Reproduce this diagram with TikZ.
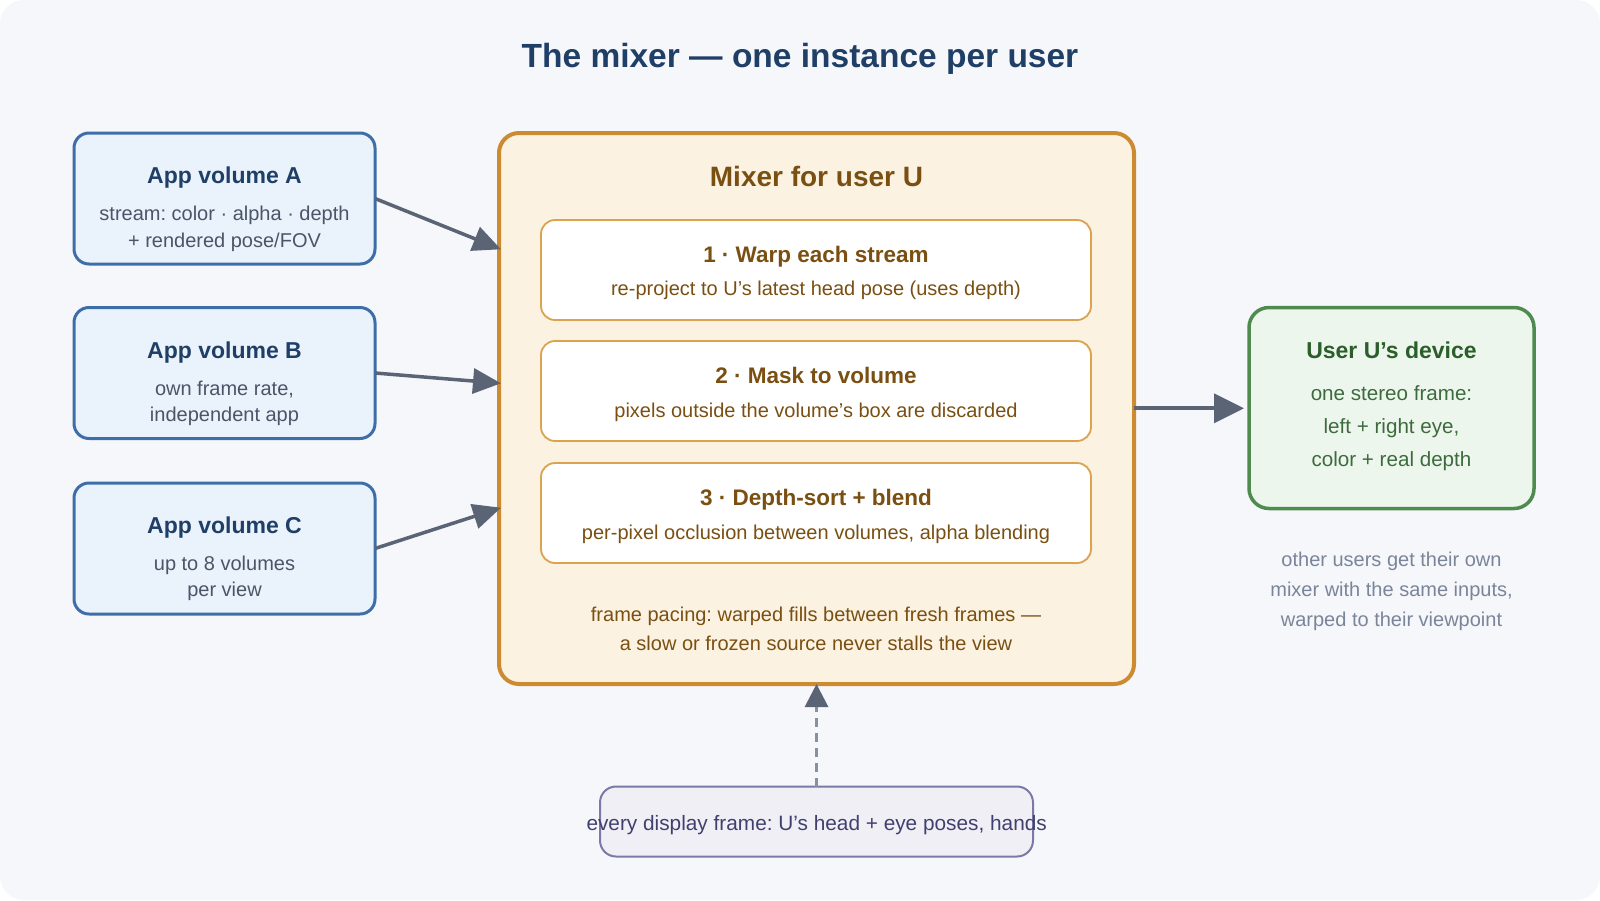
\documentclass[tikz,border=0pt]{standalone}
\usepackage{fontspec}
\setmainfont{Liberation Sans}
\usetikzlibrary{arrows.meta}
\frenchspacing
\definecolor{bgc}{HTML}{F5F7FB}
\definecolor{navy}{HTML}{1F3F66}
\definecolor{appfill}{HTML}{EAF2FC}
\definecolor{appdraw}{HTML}{3E6EA8}
\definecolor{appbody}{HTML}{4A5568}
\definecolor{mixfill}{HTML}{FCF2E2}
\definecolor{mixdraw}{HTML}{CD8B31}
\definecolor{mixtext}{HTML}{7A4F12}
\definecolor{stepdraw}{HTML}{DBA24F}
\definecolor{devfill}{HTML}{ECF6EC}
\definecolor{devdraw}{HTML}{4F8A4F}
\definecolor{devtitle}{HTML}{2B5E2B}
\definecolor{devbody}{HTML}{3E6B3E}
\definecolor{notec}{HTML}{7A8599}
\definecolor{inpfill}{HTML}{F0EFF6}
\definecolor{inpdraw}{HTML}{7B79A6}
\definecolor{inptext}{HTML}{40406E}
\definecolor{arrowc}{HTML}{5A6474}
\definecolor{dashc}{HTML}{8891A0}
\begin{document}
\frenchspacing
\begin{tikzpicture}[x=1pt,y=-1pt,
  box/.style={inner sep=0pt, outer sep=0pt},
  appbox/.style={box, fill=appfill, draw=appdraw, line width=3pt, rounded corners=15pt, minimum width=301pt, minimum height=131pt},
  mixbox/.style={box, fill=mixfill, draw=mixdraw, line width=4pt, rounded corners=20pt},
  stepbox/.style={box, fill=white, draw=stepdraw, line width=1.8pt, rounded corners=14pt, minimum width=550pt, minimum height=100pt},
  devbox/.style={box, fill=devfill, draw=devdraw, line width=3.5pt, rounded corners=20pt},
  inpbox/.style={box, fill=inpfill, draw=inpdraw, line width=2pt, rounded corners=16pt},
  hd/.style={anchor=base, inner sep=0pt, font=\bfseries\fontsize{23}{28}\selectfont},
  bd/.style={anchor=base, inner sep=0pt, font=\fontsize{20}{24}\selectfont},
  flow/.style={draw=arrowc, line width=3.5pt, -{Triangle[length=28pt,width=25pt]}},
]
\useasboundingbox (0,0) rectangle (1600,900);
\fill[white] (0,0) rectangle (1600,900);
\fill[bgc, rounded corners=24pt] (0,0) rectangle (1600,900);

% title
\node[anchor=base, inner sep=0pt, text=navy, font=\bfseries\fontsize{33.5}{40}\selectfont] (title) at (800,67) {The mixer — one instance per user};

% app volumes
\node[appbox] (A) at (224.5,198.5) {};
\node[hd, text=navy] (At) at (224.5,183) {App volume A};
\node[bd, text=appbody] (A1) at (224.5,220) {stream: color · alpha · depth};
\node[bd, text=appbody] (A2) at (224.5,247) {+ rendered pose/FOV};

\node[appbox] (B) at (224.5,373) {};
\node[hd, text=navy] (Bt) at (224.5,358) {App volume B};
\node[bd, text=appbody] (B1) at (224.5,395) {own frame rate,};
\node[bd, text=appbody] (B2) at (224.5,421.7) {independent app};

\node[appbox] (C) at (224.5,548.5) {};
\node[hd, text=navy] (Ct) at (224.5,533.3) {App volume C};
\node[bd, text=appbody] (C1) at (224.5,570) {up to 8 volumes};
\node[bd, text=appbody] (C2) at (224.5,596.7) {per view};

% mixer
\node[mixbox, minimum width=635pt, minimum height=551pt] (mix) at (816.5,408.5) {};
\node[anchor=base, inner sep=0pt, text=mixtext, font=\bfseries\fontsize{28}{34}\selectfont] (mixt) at (816.5,186.6) {Mixer for user U};

\node[stepbox] (s1) at (816,270) {};
\node[hd, text=mixtext, font=\bfseries\fontsize{22.5}{27}\selectfont] (s1t) at (816,262.4) {1 · Warp each stream};
\node[bd, text=mixtext] (s1b) at (816,295.7) {re-project to U’s latest head pose (uses depth)};

\node[stepbox] (s2) at (816,391) {};
\node[hd, text=mixtext, font=\bfseries\fontsize{22.5}{27}\selectfont] (s2t) at (816,383.8) {2 · Mask to volume};
\node[bd, text=mixtext] (s2b) at (816,417.8) {pixels outside the volume’s box are discarded};

\node[stepbox] (s3) at (816,513) {};
\node[hd, text=mixtext, font=\bfseries\fontsize{22.5}{27}\selectfont] (s3t) at (816,505.5) {3 · Depth-sort + blend};
\node[bd, text=mixtext] (s3b) at (816,539.2) {per-pixel occlusion between volumes, alpha blending};

\node[bd, text=mixtext] (p1) at (816,621.3) {frame pacing: warped fills between fresh frames —};
\node[bd, text=mixtext] (p2) at (816,650.9) {a slow or frozen source never stalls the view};

% device
\node[devbox, minimum width=285pt, minimum height=201pt] (dev) at (1391.5,408) {};
\node[hd, text=devtitle] (devt) at (1391.5,358.3) {User U’s device};
\node[bd, text=devbody, font=\fontsize{20.6}{25}\selectfont] (d1) at (1391.5,400) {one stereo frame:};
\node[bd, text=devbody, font=\fontsize{20.6}{25}\selectfont] (d2) at (1391.5,433.3) {left + right eye,};
\node[bd, text=devbody, font=\fontsize{20.6}{25}\selectfont] (d3) at (1391.5,466.7) {color + real depth};

\node[bd, text=notec] (n1) at (1391.5,566.7) {other users get their own};
\node[bd, text=notec] (n2) at (1391.5,596.7) {mixer with the same inputs,};
\node[bd, text=notec] (n3) at (1391.5,626.7) {warped to their viewpoint};

% input box
\node[inpbox, minimum width=433pt, minimum height=70pt] (inp) at (816.5,821.5) {};
\node[anchor=base, inner sep=0pt, text=inptext, font=\fontsize{20.8}{25}\selectfont] (inpt) at (816.7,830.7) {every display frame: U’s head + eye poses, hands};

% connectors
\coordinate (inA) at (501,249.3);
\coordinate (inB) at (501,383.3);
\coordinate (inC) at (501,507.7);
\coordinate (outD) at (mix.east |- 0,408.3);
\coordinate (inD) at (dev.west |- 0,408.3);
\draw[flow] (A.east) -- (inA);
\draw[flow] (B.east) -- (inB);
\draw[flow] (C.east) -- (inC);
\draw[draw=arrowc, line width=4pt, -{Triangle[length=30pt,width=29pt]}] (outD) -- ([xshift=-5pt]inD);
\draw[draw=dashc, line width=3pt, dash pattern=on 9pt off 6pt, -{Triangle[length=23pt,width=23pt,fill=arrowc,color=arrowc]}] (inp.north) -- (mix.south);
\end{tikzpicture}
\end{document}
